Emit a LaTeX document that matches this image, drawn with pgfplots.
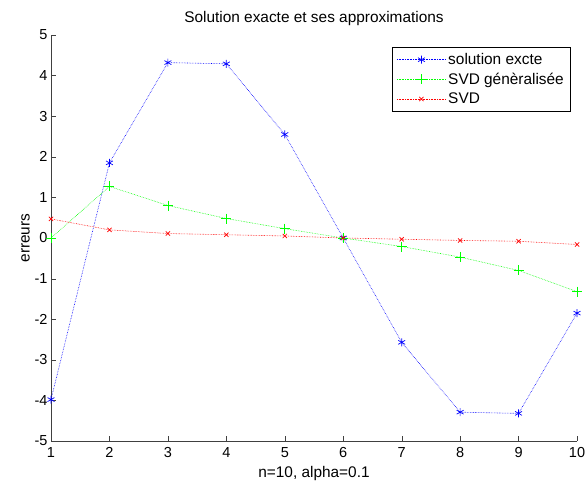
\documentclass[border=0pt]{standalone}
\usepackage{fontspec}
\setmainfont{Liberation Sans}
\usepackage{pgfplots}
\pgfplotsset{compat=1.18}
\pgfplotsset{
    matlab legend/.style={
        legend image code/.code={
            \draw[mark repeat=2,mark phase=2,##1] plot coordinates {(0pt,0pt) (24.5pt,0pt) (49pt,0pt)};
        },
    },
}

\begin{document}
\begin{tikzpicture}
\begin{axis}[
    scale only axis,
    width=526pt, height=406pt,
    xmin=1, xmax=10, ymin=-5, ymax=5,
    xtick={1,...,10}, ytick={-5,...,5},
    axis x line*=bottom, axis y line*=left,
    axis line style={draw=black!75, -},
    tick style={draw=black!75, major tick length=5pt},
    tick align=inside,
    font=\fontsize{15.4}{18}\selectfont,
    tick label style={font=\fontsize{14.5}{17}\selectfont},
    xticklabel style={yshift=-3pt},
    /pgf/number format/assume math mode=true,
    title={Solution exacte et ses approximations},
    title style={yshift=0pt},
    xlabel={n=10, alpha=0.1},
    ylabel={erreurs},
    xlabel style={yshift=-2pt},
    ylabel style={yshift=-2pt},
    legend style={at={(0.9867,0.970)}, anchor=north east, fill=white,
        inner xsep=4pt, inner ysep=4pt, row sep=3pt, font=\fontsize{15.4}{18}\selectfont},
    legend cell align=left,
    matlab legend,
]
\addplot[blue, densely dotted, line width=0.6pt, mark=asterisk, mark size=4pt, mark options={solid, line width=0.7pt}]
  coordinates {(1,-3.98) (2,1.85) (3,4.32) (4,4.29) (5,2.55) (6,0.0) (7,-2.57) (8,-4.29) (9,-4.32) (10,-1.85)};
\addlegendentry{solution excte}
\addplot[green, densely dotted, line width=0.6pt, mark=+, mark size=5pt, mark options={solid, line width=0.7pt}]
  coordinates {(1,0.0) (2,1.27) (3,0.80) (4,0.48) (5,0.23) (6,0.0) (7,-0.21) (8,-0.47) (9,-0.80) (10,-1.32)};
\addlegendentry{SVD génèralisée}
\addplot[red, densely dotted, line width=0.6pt, mark=x, mark size=3pt, mark options={solid, line width=0.7pt}]
  coordinates {(1,0.47) (2,0.20) (3,0.11) (4,0.08) (5,0.05) (6,0.0) (7,-0.03) (8,-0.06) (9,-0.08) (10,-0.16)};
\addlegendentry{SVD}
\end{axis}
\pgfresetboundingbox
\path ([shift={(-51pt,-44pt)}]current axis.south west) rectangle ([shift={(10pt,35pt)}]current axis.north east);
\end{tikzpicture}
\end{document}
